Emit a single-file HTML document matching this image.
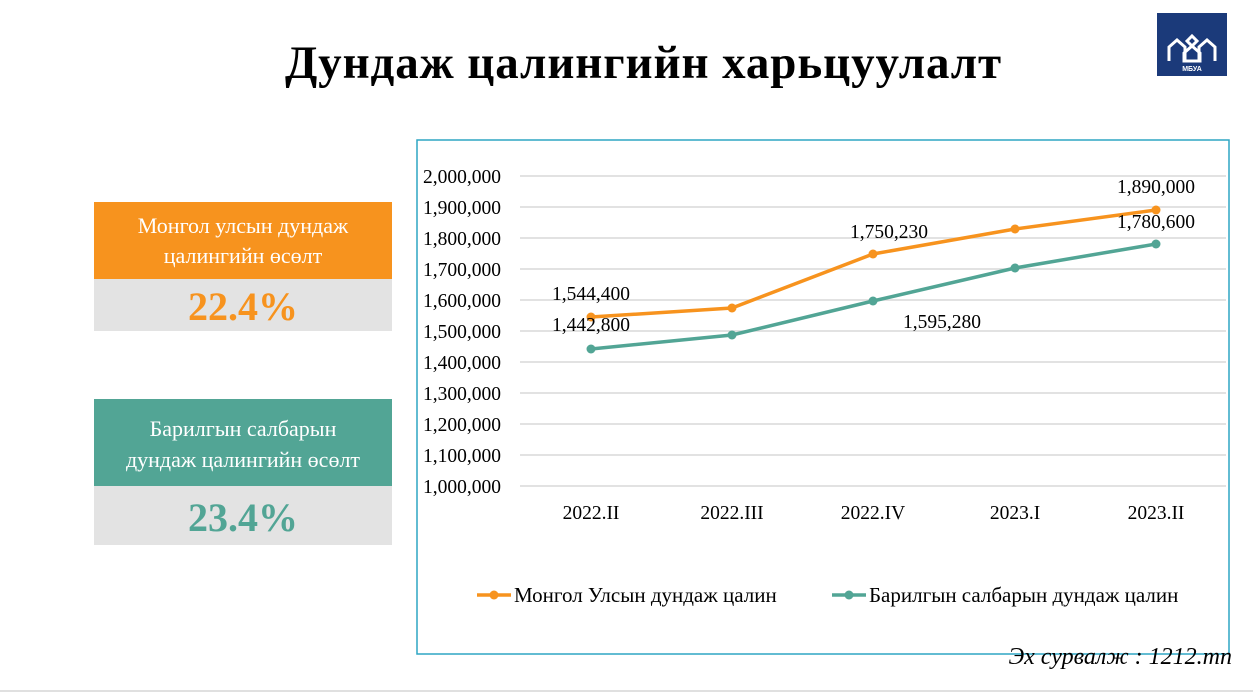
<!DOCTYPE html>
<html><head><meta charset="utf-8"><style>
body{margin:0;width:1253px;height:694px;background:#fff;position:relative;overflow:hidden;font-family:"Liberation Serif",serif}
.a{position:absolute}
</style></head><body>
<div class="a" style="left:0;top:36px;width:1287px;text-align:center;font-size:47px;font-weight:bold;letter-spacing:0.9px">Дундаж цалингийн харьцуулалт</div>
<div class="a" style="left:1157px;top:13px;width:70px;height:63px;background:#1b3a7a"></div>
<svg class="a" style="left:1157px;top:13px" width="70" height="63"><g fill="none" stroke="#fff" stroke-width="3"><path d="M12 48V34l8-7 8 7v14M42 48V34l8-7 8 7v14M27 40l8-7 8 7v8H27zM30 28l5-5 5 5-5 5z"/></g><text x="35" y="58" fill="#fff" font-size="7" font-weight="bold" text-anchor="middle" font-family="Liberation Sans,sans-serif">МБУА</text></svg>
<div class="a" style="left:94px;top:202px;width:298px;height:77px;background:#f7931e;color:#fff;font-size:22px;text-align:center;line-height:30px;padding-top:9px;box-sizing:border-box">Монгол улсын дундаж<br>цалингийн өсөлт</div>
<div class="a" style="left:94px;top:279px;width:298px;height:52px;background:#e3e3e3;color:#f7931e;font-size:40px;font-weight:bold;text-align:center;line-height:56px">22.4%</div>
<div class="a" style="left:94px;top:399px;width:298px;height:87px;background:#52a595;color:#fff;font-size:22px;text-align:center;line-height:31px;padding-top:14px;box-sizing:border-box">Барилгын салбарын<br>дундаж цалингийн өсөлт</div>
<div class="a" style="left:94px;top:486px;width:298px;height:59px;background:#e3e3e3;color:#52a595;font-size:40px;font-weight:bold;text-align:center;line-height:64px">23.4%</div>
<svg class="a" style="left:0;top:0" width="1253" height="694" font-family="Liberation Serif,serif">
<rect x="417" y="140" width="812" height="514" fill="none" stroke="#2ea6c4" stroke-width="1.5"/>
<g stroke="#d9d9d9" stroke-width="1.5">
<line x1="520" x2="1226" y1="176" y2="176"/><line x1="520" x2="1226" y1="207" y2="207"/><line x1="520" x2="1226" y1="238" y2="238"/><line x1="520" x2="1226" y1="269" y2="269"/><line x1="520" x2="1226" y1="300" y2="300"/><line x1="520" x2="1226" y1="331" y2="331"/><line x1="520" x2="1226" y1="362" y2="362"/><line x1="520" x2="1226" y1="393" y2="393"/><line x1="520" x2="1226" y1="424" y2="424"/><line x1="520" x2="1226" y1="455" y2="455"/><line x1="520" x2="1226" y1="486" y2="486"/></g>
<g font-size="19.5" text-anchor="end" fill="#000">
<text x="501" y="183">2,000,000</text><text x="501" y="214">1,900,000</text><text x="501" y="245">1,800,000</text><text x="501" y="276">1,700,000</text><text x="501" y="307">1,600,000</text><text x="501" y="338">1,500,000</text><text x="501" y="369">1,400,000</text><text x="501" y="400">1,300,000</text><text x="501" y="431">1,200,000</text><text x="501" y="462">1,100,000</text><text x="501" y="493">1,000,000</text></g>
<g font-size="19.5" text-anchor="middle"><text x="591" y="519">2022.II</text><text x="732" y="519">2022.III</text><text x="873" y="519">2022.IV</text><text x="1015" y="519">2023.I</text><text x="1156" y="519">2023.II</text></g>
<polyline points="591,317 732,308 873,254 1015,229 1156,210" fill="none" stroke="#f7931e" stroke-width="3.5"/>
<polyline points="591,349 732,335 873,301 1015,268 1156,244" fill="none" stroke="#52a595" stroke-width="3.5"/>
<g fill="#f7931e"><circle cx="591" cy="317" r="4.5"/><circle cx="732" cy="308" r="4.5"/><circle cx="873" cy="254" r="4.5"/><circle cx="1015" cy="229" r="4.5"/><circle cx="1156" cy="210" r="4.5"/></g>
<g fill="#52a595"><circle cx="591" cy="349" r="4.5"/><circle cx="732" cy="335" r="4.5"/><circle cx="873" cy="301" r="4.5"/><circle cx="1015" cy="268" r="4.5"/><circle cx="1156" cy="244" r="4.5"/></g>
<g font-size="19.5" text-anchor="middle"><text x="591" y="300">1,544,400</text><text x="591" y="331">1,442,800</text><text x="889" y="238">1,750,230</text><text x="942" y="328">1,595,280</text><text x="1156" y="193">1,890,000</text><text x="1156" y="228">1,780,600</text></g>
<line x1="477" x2="511" y1="595" y2="595" stroke="#f7931e" stroke-width="3.5"/><circle cx="494" cy="595" r="4.5" fill="#f7931e"/>
<text x="514" y="602" font-size="21">Монгол Улсын дундаж цалин</text>
<line x1="832" x2="866" y1="595" y2="595" stroke="#52a595" stroke-width="3.5"/><circle cx="849" cy="595" r="4.5" fill="#52a595"/>
<text x="869" y="602" font-size="21">Барилгын салбарын дундаж цалин</text>
<text x="1232" y="664" font-size="24" font-style="italic" text-anchor="end">Эх сурвалж : 1212.mn</text>
<line x1="0" x2="1253" y1="691" y2="691" stroke="#e0e0e0" stroke-width="2"/>
</svg>
</body></html>
